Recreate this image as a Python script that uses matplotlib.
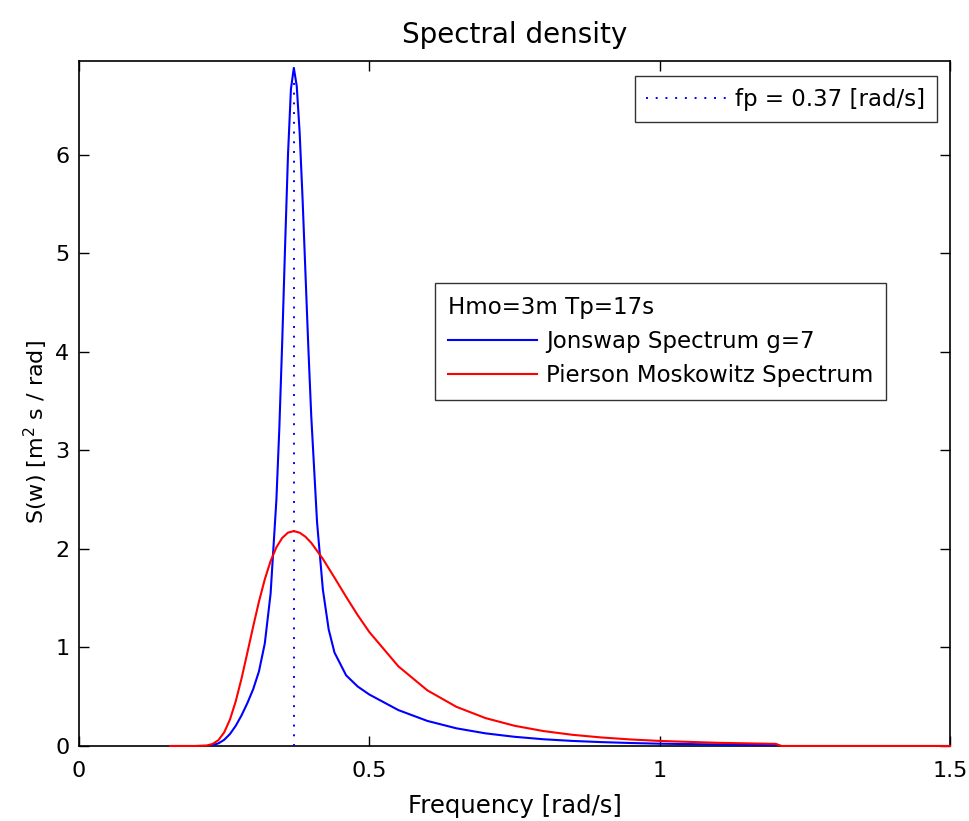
import matplotlib
matplotlib.use("Agg")
import matplotlib.pyplot as plt

# ---- data ----
freq_pm = [0.157, 0.20, 0.22, 0.23, 0.24, 0.25, 0.26, 0.27, 0.28, 0.29, 0.30, 0.31,
           0.32, 0.33, 0.34, 0.35, 0.36, 0.37, 0.38, 0.39, 0.40, 0.42, 0.44, 0.46,
           0.48, 0.50, 0.55, 0.60, 0.65, 0.70, 0.75, 0.80, 0.85, 0.90, 0.95, 1.00,
           1.10, 1.20, 1.21, 1.50]
s_pm = [0.0, 0.0, 0.005, 0.020, 0.058, 0.137, 0.268, 0.454, 0.686, 0.947, 1.212, 1.466,
        1.691, 1.876, 2.016, 2.111, 2.165, 2.180, 2.164, 2.123, 2.061, 1.898, 1.708, 1.514,
        1.327, 1.156, 0.808, 0.564, 0.397, 0.283, 0.205, 0.151, 0.113, 0.086, 0.066, 0.051,
        0.032, 0.021, 0.0, 0.0]

freq_js = [0.23, 0.24, 0.25, 0.26, 0.27, 0.28, 0.29, 0.30, 0.31, 0.32, 0.33, 0.34,
           0.345, 0.35, 0.355, 0.36, 0.365, 0.37, 0.375, 0.38, 0.385, 0.39, 0.395, 0.40,
           0.41, 0.42, 0.43, 0.44, 0.46, 0.48, 0.50, 0.55, 0.60, 0.65, 0.70, 0.75,
           0.80, 0.85, 0.90, 0.95, 1.00, 1.10, 1.20]
s_js = [0.009, 0.026, 0.062, 0.121, 0.205, 0.311, 0.435, 0.576, 0.758, 1.040, 1.546, 2.500,
        3.219, 4.101, 5.081, 6.005, 6.665, 6.880, 6.696, 6.227, 5.560, 4.801, 4.041, 3.348,
        2.270, 1.587, 1.183, 0.948, 0.717, 0.603, 0.522, 0.364, 0.254, 0.179, 0.128, 0.093,
        0.068, 0.051, 0.039, 0.030, 0.023, 0.015, 0.009]

fp = 0.37
fp_top = 6.88
x_ticks = [0, 0.5, 1, 1.5]
x_tick_labels = ["0", "0.5", "1", "1.5"]
y_ticks = [0, 1, 2, 3, 4, 5, 6]
y_tick_labels = ["0", "1", "2", "3", "4", "5", "6"]

title_text = "Spectral density"
xlabel_text = "Frequency [rad/s]"
ylabel_text = "S(w) [m$^2$ s / rad]"
fp_label = "fp = 0.37 [rad/s]"
legend_title = "Hmo=3m Tp=17s"
js_label = "Jonswap Spectrum g=7"
pm_label = "Pierson Moskowitz Spectrum"

plt.rcParams['font.family'] = ['DejaVu Sans']
plt.rcParams['mathtext.fontset'] = 'dejavusans'

fig = plt.figure(figsize=(9.69, 8.21), dpi=100)
ax = fig.add_axes([0.0815, 0.0914, 0.8989, 0.8343])

fp_line, = ax.plot([fp, fp], [0, fp_top], linestyle=(0, (1, 4)), color='#0000ff',
                   lw=1.4, zorder=3, clip_on=False)
js_line, = ax.plot(freq_js, s_js, color='#0000ff', lw=1.5, zorder=3, clip_on=False)
pm_line, = ax.plot(freq_pm, s_pm, color='#ff0000', lw=1.5, zorder=3, clip_on=False)

ax.set_xlim(0, 1.5)
ax.set_ylim(0, 6.95)
ax.set_xticks(x_ticks)
ax.set_xticklabels(x_tick_labels)
ax.set_yticks(y_ticks)
ax.set_yticklabels(y_tick_labels)
ax.tick_params(direction='in', length=7, width=1, top=True, right=True,
               labelsize=16, colors='black')
ax.tick_params(axis='x', pad=11)
ax.tick_params(axis='y', pad=7)
for sp in ax.spines.values():
    sp.set_linewidth(1.2)
    sp.set_color('black')

ax.set_title(title_text, fontsize=20, pad=13)
ax.set_xlabel(xlabel_text, fontsize=17.5, labelpad=9)
ax.set_ylabel(ylabel_text, fontsize=16)
ax.yaxis.set_label_coords(-0.033, 0.458)

leg1 = ax.legend([fp_line], [fp_label], loc='upper right',
                 bbox_to_anchor=(0.985, 0.978), fontsize=16.5, frameon=True,
                 fancybox=False, shadow=False, handlelength=3.6, handletextpad=0.3,
                 borderpad=0.5, borderaxespad=0)
leg1.get_frame().set_edgecolor('black')
leg1.get_frame().set_linewidth(1.0)
ax.add_artist(leg1)

leg2 = ax.legend([js_line, pm_line], [js_label, pm_label], loc='upper left',
                 bbox_to_anchor=(0.4087, 0.676), fontsize=16.5, title=legend_title,
                 title_fontsize=16.5, alignment='left', frameon=True, fancybox=False,
                 handlelength=3.9, handletextpad=0.4, borderpad=0.55, labelspacing=0.5,
                 borderaxespad=0)
leg2.get_frame().set_edgecolor('black')
leg2.get_frame().set_linewidth(1.0)

fig.savefig('out.png', dpi=100)
